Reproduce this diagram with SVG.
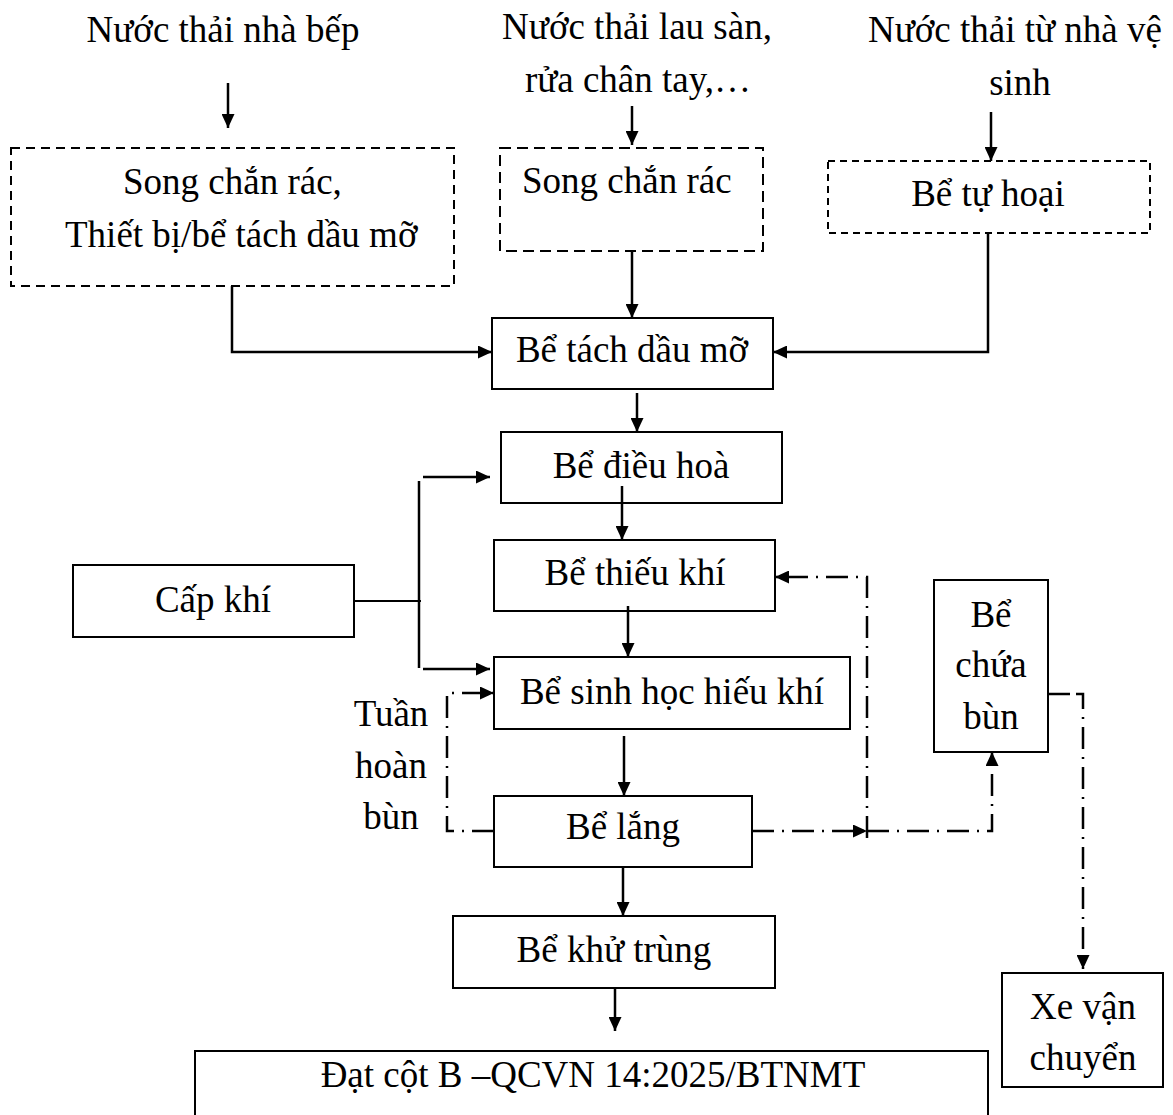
<svg xmlns="http://www.w3.org/2000/svg" width="1173" height="1115" viewBox="0 0 1173 1115">
<style>
text{font-family:"Liberation Serif","Times New Roman",serif;font-size:37px;fill:#000}
.c{text-anchor:middle}
.box{fill:#fff;stroke:#000;stroke-width:2}
.dash{fill:#fff;stroke:#000;stroke-width:2}
.ln{fill:none;stroke:#000;stroke-width:2.5}
.thin{fill:none;stroke:#000;stroke-width:1.8}
.dd{fill:none;stroke:#000;stroke-width:2.5;stroke-dasharray:22 8 2 8}
</style>
<defs>
<marker id="ah" viewBox="0 0 14 13" refX="14" refY="6.5" markerWidth="14" markerHeight="13" markerUnits="userSpaceOnUse" orient="auto">
<path d="M0,0 L14,6.5 L0,13 z" fill="#000"/>
</marker>
</defs>
<g id="sources">
<text class="c" x="223" y="42">Nước thải nhà bếp</text>
<text class="c" x="637" y="39">Nước thải lau sàn,</text>
<text class="c" x="638" y="92">rửa chân tay,…</text>
<text class="c" x="1015" y="42">Nước thải từ nhà vệ</text>
<text class="c" x="1020" y="95">sinh</text>
</g>
<g id="n-song1">
<rect class="dash" x="11" y="148" width="443" height="138" stroke-dasharray="9 6"/>
<text x="123" y="194">Song chắn rác,</text>
<text x="65" y="247">Thiết bị/bể tách dầu mỡ</text>
</g>
<g id="n-song2">
<rect class="dash" x="500" y="148" width="263" height="103" stroke-dasharray="11 6"/>
<text x="522" y="193">Song chắn rác</text>
</g>
<g id="n-tuhoai">
<rect class="dash" x="828" y="161" width="322" height="72" stroke-dasharray="7 5"/>
<text class="c" x="988" y="206">Bể tự hoại</text>
</g>
<g id="n-tachdau">
<rect class="box" x="492" y="318" width="281" height="71"/>
<text class="c" x="632" y="362">Bể tách dầu mỡ</text>
</g>
<g id="n-dieuhoa">
<rect class="box" x="501" y="432" width="281" height="71"/>
<text class="c" x="641" y="478">Bể điều hoà</text>
</g>
<g id="n-thieukhi">
<rect class="box" x="494" y="540" width="281" height="71"/>
<text class="c" x="635" y="585">Bể thiếu khí</text>
</g>
<g id="n-capkhi">
<rect class="box" x="73" y="565" width="281" height="72"/>
<text class="c" x="213" y="612">Cấp khí</text>
</g>
<g id="n-hieukhi">
<rect class="box" x="494" y="657" width="356" height="72"/>
<text class="c" x="672" y="704">Bể sinh học hiếu khí</text>
</g>
<g id="n-tuanhoan">
<text class="c" x="391" y="726">Tuần</text>
<text class="c" x="391" y="778">hoàn</text>
<text class="c" x="391" y="829">bùn</text>
</g>
<g id="n-lang">
<rect class="box" x="494" y="796" width="258" height="71"/>
<text class="c" x="623" y="839">Bể lắng</text>
</g>
<g id="n-chuabun">
<rect class="box" x="934" y="580" width="114" height="172"/>
<text class="c" x="991" y="627">Bể</text>
<text class="c" x="991" y="677">chứa</text>
<text class="c" x="991" y="729">bùn</text>
</g>
<g id="n-khutrung">
<rect class="box" x="453" y="916" width="322" height="72"/>
<text class="c" x="614" y="962">Bể khử trùng</text>
</g>
<g id="n-xe">
<rect class="box" x="1002" y="973" width="161" height="114"/>
<text class="c" x="1083" y="1019">Xe vận</text>
<text class="c" x="1083" y="1070">chuyển</text>
</g>
<g id="n-dat">
<rect class="box" x="195" y="1051" width="793" height="80"/>
<text class="c" x="593" y="1087">Đạt cột B –QCVN 14:2025/BTNMT</text>
</g>
<g id="connectors">
<path class="ln" d="M228,83 V128" marker-end="url(#ah)"/>
<path class="ln" d="M632,106 V145" marker-end="url(#ah)"/>
<path class="ln" d="M991,112 V161" marker-end="url(#ah)"/>
<path class="ln" d="M232,286 V352 H492" marker-end="url(#ah)"/>
<path class="ln" d="M632,251 V318" marker-end="url(#ah)"/>
<path class="ln" d="M988,233 V352 H773" marker-end="url(#ah)"/>
<path class="ln" d="M637,393 V432" marker-end="url(#ah)"/>
<path class="ln" d="M622,486 V540" marker-end="url(#ah)"/>
<path class="ln" d="M628,606 V657" marker-end="url(#ah)"/>
<path class="ln" d="M624,736 V796" marker-end="url(#ah)"/>
<path class="ln" d="M623,867 V916" marker-end="url(#ah)"/>
<path class="ln" d="M615,988 V1031" marker-end="url(#ah)"/>
<path class="thin" d="M354,601 H421"/>
<path class="ln" d="M419,481 V668"/>
<path class="ln" d="M423,477 H490" marker-end="url(#ah)"/>
<path class="ln" d="M423,669 H490" marker-end="url(#ah)"/>
<path class="dd" d="M494,831 H447 V693 H494" marker-end="url(#ah)"/>
<path class="dd" d="M752,831 H867" marker-end="url(#ah)"/>
<path class="dd" d="M867,838 V577 H775" marker-end="url(#ah)"/>
<path class="dd" d="M867,831 H992 V752" marker-end="url(#ah)"/>
<path class="ln" d="M1048,694 H1070"/>
<path class="dd" d="M1076,694 H1083 V969" marker-end="url(#ah)"/>
</g>
</svg>
